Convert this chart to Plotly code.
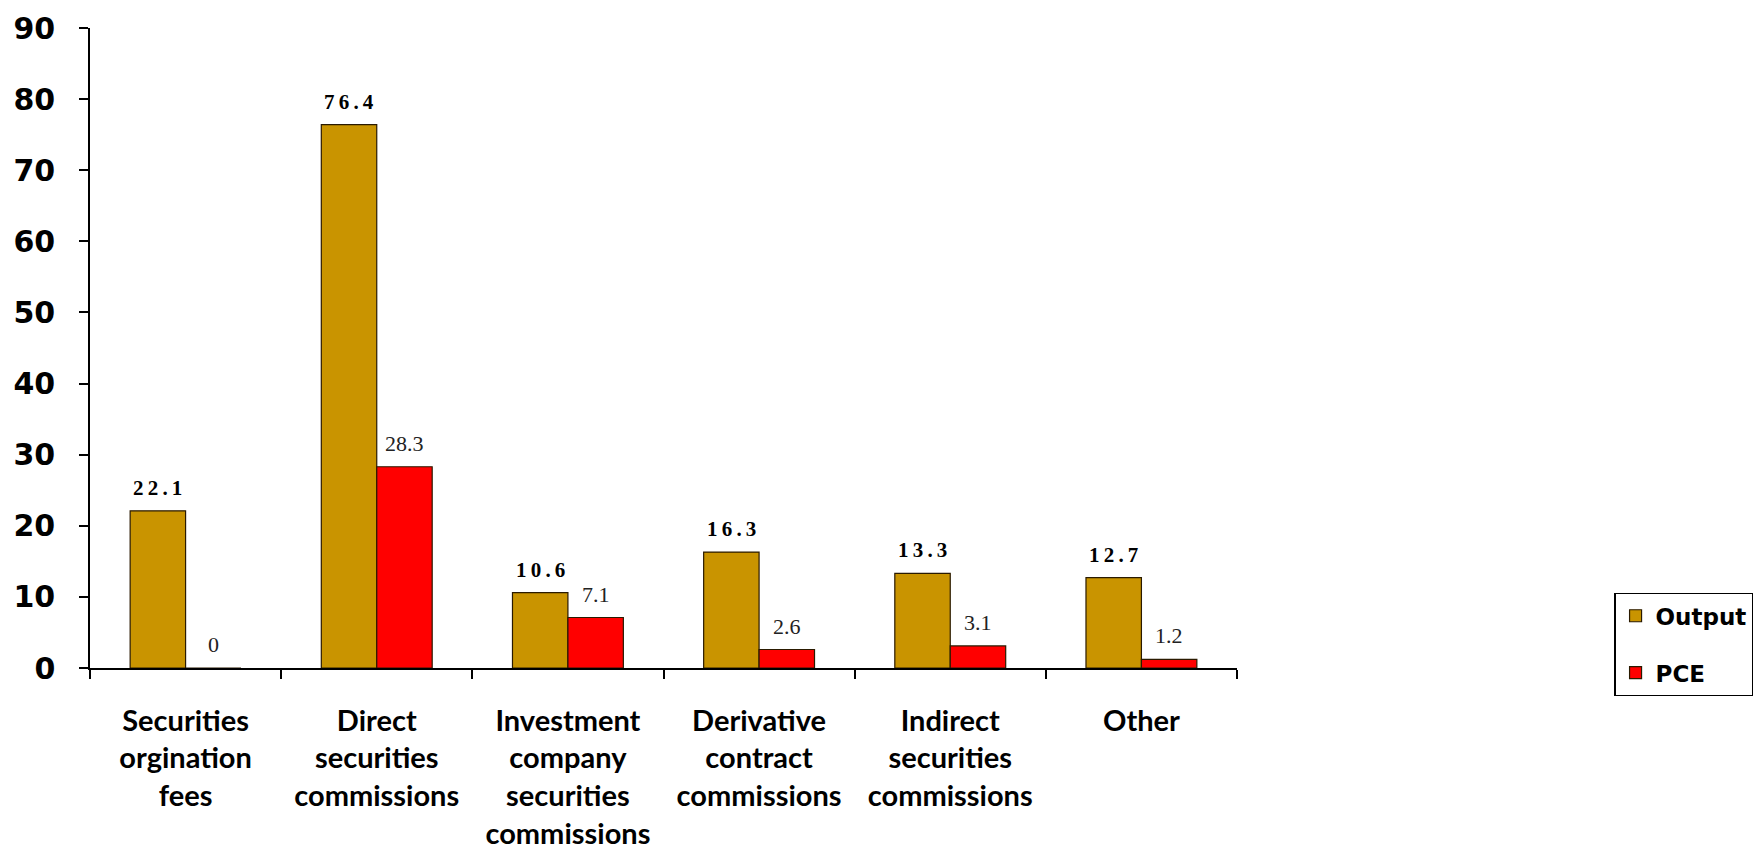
import plotly.graph_objects as go

# Categories and values
categories = [
    "Securities<br>orgination<br>fees",
    "Direct<br>securities<br>commissions",
    "Investment<br>company<br>securities<br>commissions",
    "Derivative<br>contract<br>commissions",
    "Indirect<br>securities<br>commissions",
    "Other",
]
output_values = [22.1, 76.4, 10.6, 16.3, 13.3, 12.7]
pce_values = [0, 28.3, 7.1, 2.6, 3.1, 1.2]
y_ticks = [0, 10, 20, 30, 40, 50, 60, 70, 80, 90]

OUTPUT_COLOR = "#C99400"
PCE_COLOR = "#FF0000"
EDGE = "#2a1a00"
BAR_W = 0.29  # width of each bar, in category units

fig = go.Figure()
fig.add_trace(go.Bar(
    name="Output", x=categories, y=output_values,
    width=BAR_W, offset=-BAR_W, legendgroup="output",
    marker=dict(color=OUTPUT_COLOR, line=dict(color=EDGE, width=1.2)),
))
fig.add_trace(go.Bar(
    name="PCE", x=categories, y=pce_values,
    width=BAR_W, offset=0, legendgroup="pce",
    marker=dict(color=PCE_COLOR, line=dict(color=EDGE, width=1.2)),
))

# Value labels above each bar
annotations = []
for i, v in enumerate(output_values):
    annotations.append(dict(
        x=i - BAR_W / 2, y=v, xref="x", yref="y",
        text="\u2009".join(f"{v:g}"), showarrow=False,
        yanchor="bottom", yshift=9,
        font=dict(family="Liberation Serif, Times New Roman, serif",
                  size=21, color="black", weight="bold"),
    ))
for i, v in enumerate(pce_values):
    annotations.append(dict(
        x=i + BAR_W / 2, y=v, xref="x", yref="y",
        text=f"{v:g}", showarrow=False,
        yanchor="bottom", yshift=9,
        font=dict(family="Liberation Serif, Times New Roman, serif",
                  size=22, color="#222222"),
    ))

fig.update_layout(
    width=1760, height=864,
    margin=dict(l=90, r=523, t=28, b=196, autoexpand=False),
    paper_bgcolor="white", plot_bgcolor="white",
    barmode="overlay",
    showlegend=True,
    legend=dict(
        x=1.329, y=0.117, xanchor="left", yanchor="top",
        bordercolor="black", borderwidth=1.2, bgcolor="white",
        font=dict(family="DejaVu Sans", size=23, color="black", weight="bold"),
        tracegroupgap=24, itemwidth=30,
    ),
    annotations=annotations,
    xaxis=dict(
        type="category", tickson="boundaries", tickangle=0,
        showline=True, linecolor="black", linewidth=1.5,
        ticks="outside", ticklen=9, tickcolor="black", tickwidth=1.5,
        showgrid=False, zeroline=False, automargin=False,
        tickfont=dict(family="Lato, DejaVu Sans", size=29, color="black", weight="bold"),
        ticklabelstandoff=26,
    ),
    yaxis=dict(
        range=[0, 90], tickvals=y_ticks,
        showline=True, linecolor="black", linewidth=1.5,
        ticks="outside", ticklen=9, tickcolor="black", tickwidth=1.5,
        showgrid=False, zeroline=False, automargin=False,
        tickfont=dict(family="DejaVu Sans", size=30, color="black", weight="bold"),
        ticklabelstandoff=18,
    ),
)

fig.write_html("out.html")
